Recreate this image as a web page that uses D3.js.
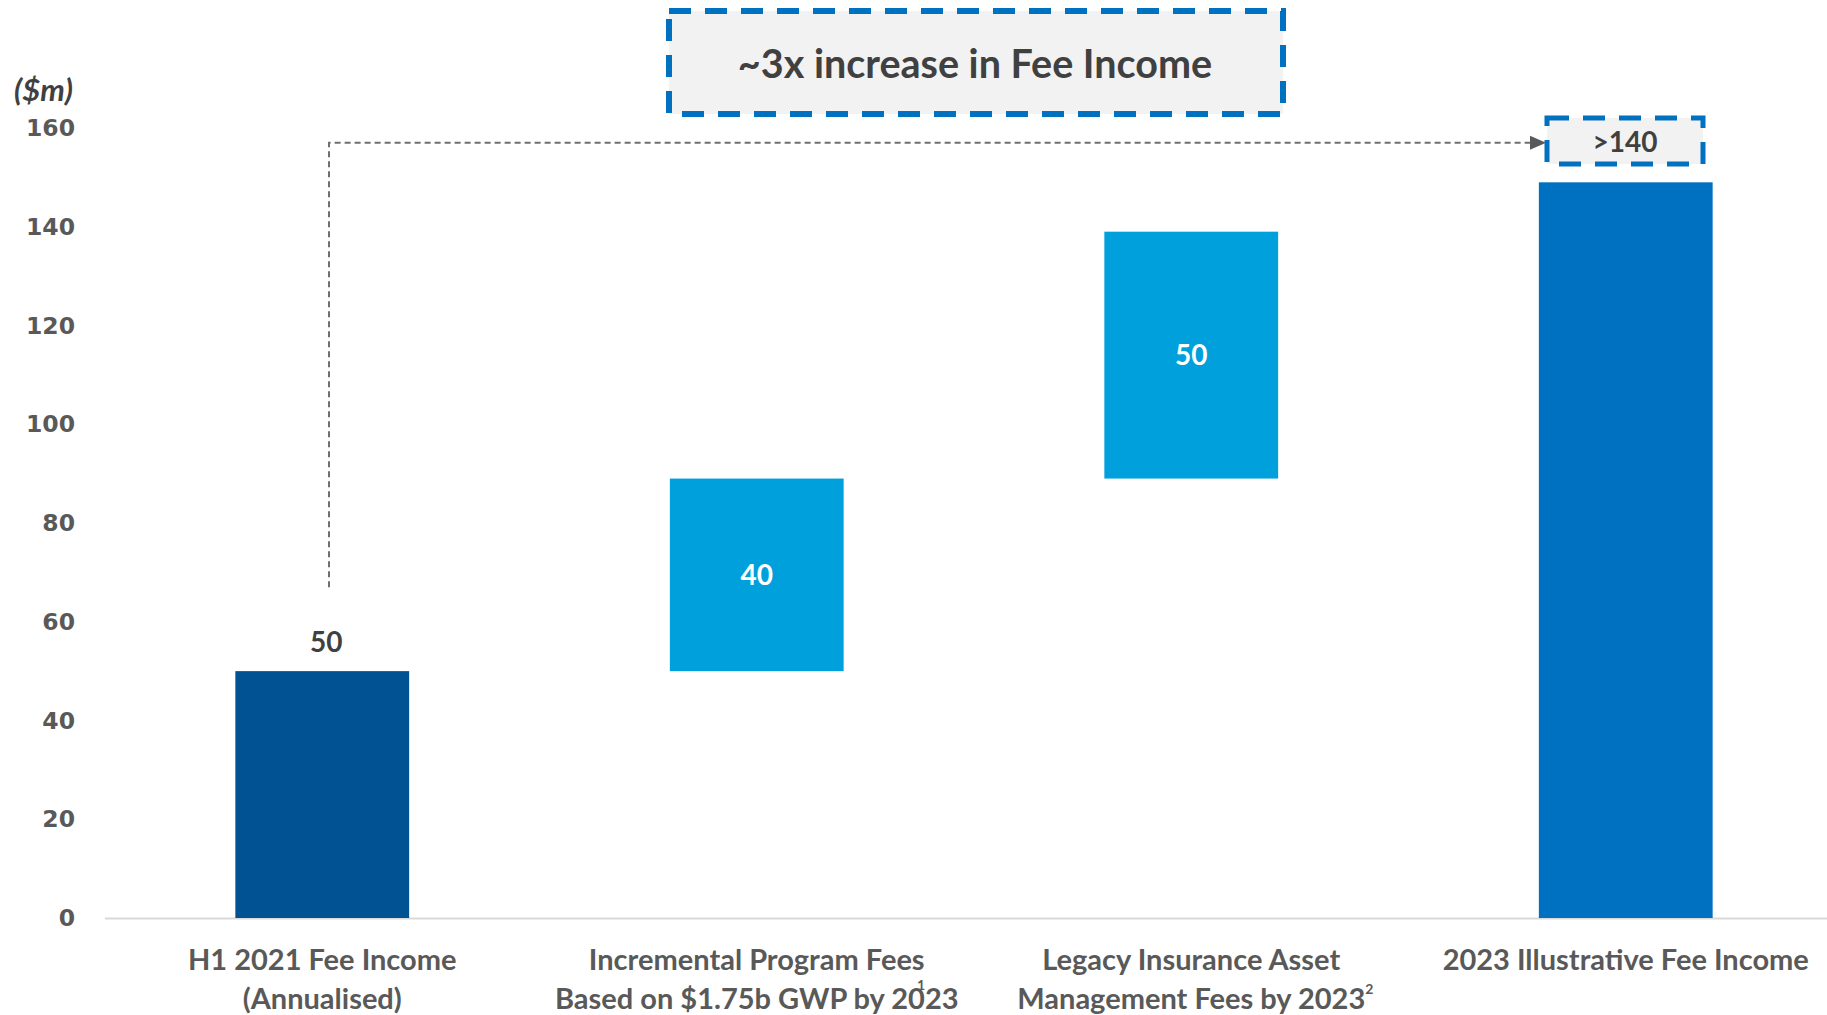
<!DOCTYPE html>
<html>
<head>
<style>
  body { margin: 0; background: #fff; }
  svg text { font-family: Lato, "Open Sans", sans-serif; }
</style>
</head>
<body>
<svg id="chart" width="1827" height="1015"></svg>
<script src="https://cdn.jsdelivr.net/npm/d3@7"></script>
<script>
// data
var categories = [
  ["H1 2021 Fee Income", "(Annualised)"],
  ["Incremental Program Fees", "Based on $1.75b GWP by 2023"],
  ["Legacy Insurance Asset", "Management Fees by 2023"],
  ["2023 Illustrative Fee Income"]
];
var barStart = [0, 50, 89, 0];
var barEnd = [50, 89, 139, 149];
var barLabels = ["50", "40", "50", ">140"];
var barColors = ["#005293", "#00a0dc", "#00a0dc", "#0070c0"];
var yTicks = [0, 20, 40, 60, 80, 100, 120, 140, 160];
var footnotes = [null, "1", "2", null];

var svg = d3.select("#chart");

var x = d3.scaleBand()
    .domain(d3.range(categories.length))
    .range([105, 1843])
    .paddingInner(0.6)
    .paddingOuter(0.3);

var y = d3.scaleLinear().domain([0, 160]).range([918, 128]);

// y axis labels
var yAxis = d3.axisLeft(y).tickValues(yTicks).tickSize(0).tickPadding(0);
var yg = svg.append("g").attr("transform", "translate(75,0)").call(yAxis);
yg.select(".domain").remove();
yg.selectAll("text")
    .attr("fill", "#595959")
    .style("font-family", "'DejaVu Sans', sans-serif")
    .style("font-weight", "bold")
    .style("font-size", "23.5px");

svg.append("text")
    .attr("x", 73).attr("y", 101)
    .attr("text-anchor", "end")
    .attr("fill", "#404040")
    .style("font-weight", "bold").style("font-style", "italic")
    .style("font-size", "31px")
    .text("($m)");

// x axis line
svg.append("line")
    .attr("x1", 105).attr("x2", 1827)
    .attr("y1", y(0) + 0.5).attr("y2", y(0) + 0.5)
    .attr("stroke", "#d9d9d9").attr("stroke-width", 2);

// bars
svg.append("g").selectAll("rect")
    .data(categories)
    .join("rect")
    .attr("x", function(d, i) { return x(i); })
    .attr("width", x.bandwidth())
    .attr("y", function(d, i) { return y(barEnd[i]); })
    .attr("height", function(d, i) { return y(barStart[i]) - y(barEnd[i]); })
    .attr("fill", function(d, i) { return barColors[i]; });

// value labels (first above bar, middle ones inside)
svg.append("text")
    .attr("x", x(0) + x.bandwidth() / 2 + 4)
    .attr("y", y(barEnd[0]) - 19)
    .attr("text-anchor", "middle")
    .attr("fill", "#404040")
    .style("font-weight", "bold").style("font-size", "28px")
    .text(barLabels[0]);

[1, 2].forEach(function(i) {
  svg.append("text")
      .attr("x", x(i) + x.bandwidth() / 2)
      .attr("y", (y(barStart[i]) + y(barEnd[i])) / 2)
      .attr("dy", "0.36em")
      .attr("text-anchor", "middle")
      .attr("fill", "#fff")
      .style("font-weight", "bold").style("font-size", "28px")
      .text(barLabels[i]);
});

// category labels
var cat = svg.append("g").selectAll("text")
    .data(categories)
    .join("text")
    .attr("text-anchor", "middle")
    .attr("fill", "#595959")
    .style("font-weight", "bold").style("font-size", "29px");
cat.each(function(lines, i) {
  var t = d3.select(this);
  lines.forEach(function(l, j) {
    t.append("tspan")
        .attr("x", x(i) + x.bandwidth() / 2)
        .attr("y", 970 + j * 39)
        .text(l);
  });
});
// footnote superscripts: "1" sits over the 2023 as in the source, "2" follows the text
svg.append("text")
    .attr("x", 917).attr("y", 990)
    .attr("fill", "#595959").style("font-size", "14px").style("font-weight", "bold")
    .text(footnotes[1]);
var line3 = cat.filter(function(d, i) { return i === 2; }).selectAll("tspan").nodes()[1];
var l3w = line3.getComputedTextLength();
svg.append("text")
    .attr("x", x(2) + x.bandwidth() / 2 + l3w / 2).attr("y", 994)
    .attr("fill", "#595959").style("font-size", "14px").style("font-weight", "bold")
    .text(footnotes[2]);

// dashed connector with arrow
svg.append("path")
    .attr("d", "M329," + y(67) + "V" + y(157) + "H1532")
    .attr("fill", "none")
    .attr("stroke", "#6f6f6f")
    .attr("stroke-width", 2)
    .attr("stroke-dasharray", "6,4");
svg.append("path")
    .attr("d", "M1530," + (y(157) - 7) + "L1546," + y(157) + "L1530," + (y(157) + 7) + "Z")
    .attr("fill", "#595959");

// ">140" callout box
svg.append("rect")
    .attr("x", 1547).attr("y", 118).attr("width", 156).attr("height", 46)
    .attr("fill", "#f2f2f2")
    .attr("stroke", "#0070c0").attr("stroke-width", 5)
    .attr("stroke-dasharray", "22,14");
svg.append("text")
    .attr("x", 1625).attr("y", 142).attr("dy", "0.36em")
    .attr("text-anchor", "middle")
    .attr("fill", "#404040")
    .style("font-weight", "bold").style("font-size", "28px")
    .text(barLabels[3]);

// headline box
svg.append("rect")
    .attr("x", 669).attr("y", 11).attr("width", 614).attr("height", 103)
    .attr("fill", "#f2f2f2")
    .attr("stroke", "#0070c0").attr("stroke-width", 6)
    .attr("stroke-dasharray", "22,14");
svg.append("text")
    .attr("x", 975).attr("y", 64).attr("dy", "0.36em")
    .attr("text-anchor", "middle")
    .attr("fill", "#404040")
    .style("font-weight", "bold").style("font-size", "39.5px")
    .text("~3x increase in Fee Income");
</script>
</body>
</html>
